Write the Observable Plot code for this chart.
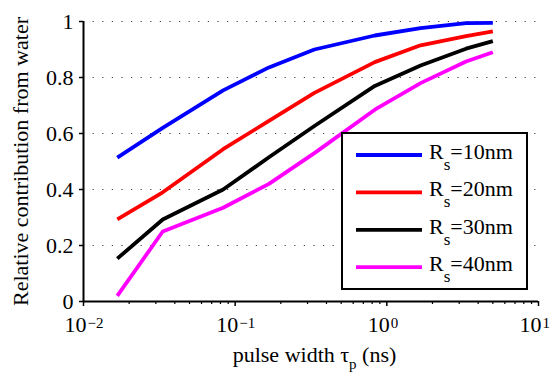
<!DOCTYPE html>
<html>
<head>
<meta charset="utf-8">
<script src="https://cdn.jsdelivr.net/npm/d3@7"></script>
<script src="https://cdn.jsdelivr.net/npm/@observablehq/plot@0.6"></script>
<style>
  html, body { margin: 0; padding: 0; background: #fff; }
  #chart { position: relative; width: 552px; height: 377px; }
  #chart svg text { font-family: "Liberation Serif", "DejaVu Serif", serif !important; }
</style>
</head>
<body>
<div id="chart"></div>
<script>
// ---- data ----
const pulseWidth = [0.0167, 0.0333, 0.0833, 0.167, 0.333, 0.833, 1.67, 3.33, 5];
const rs10 = [0.514, 0.62, 0.754, 0.836, 0.90, 0.95, 0.976, 0.994, 0.995];
const rs20 = [0.293, 0.39, 0.544, 0.645, 0.745, 0.855, 0.915, 0.948, 0.965];
const rs30 = [0.153, 0.293, 0.40, 0.515, 0.627, 0.77, 0.843, 0.903, 0.93];
const rs40 = [0.02, 0.25, 0.335, 0.42, 0.53, 0.685, 0.78, 0.857, 0.89];
const seriesNames = ["10nm", "20nm", "30nm", "40nm"];
const seriesColors = ["#0000ff", "#ff0000", "#000000", "#ff00ff"];
const yTicks = [0, 0.2, 0.4, 0.6, 0.8, 1];
const xMajor = [0.01, 0.1, 1, 10];
const xMinor = [0.02,0.03,0.04,0.05,0.06,0.07,0.08,0.09,0.2,0.3,0.4,0.5,0.6,0.7,0.8,0.9,2,3,4,5,6,7,8,9];
const xLabel = ["pulse width τ", "p", " (ns)"];
const yLabel = "Relative contribution from water";

const allSeries = [rs10, rs20, rs30, rs40];
const rows = [];
allSeries.forEach((vals, i) => vals.forEach((v, j) => rows.push({t: pulseWidth[j], v, s: seriesNames[i]})));

const W = 552, H = 377, ML = 83, MR = 14, MT = 21, MB = 76;
const FW = W - ML - MR, FH = H - MT - MB;

const plot = Plot.plot({
  width: W, height: H,
  marginLeft: ML, marginRight: MR, marginTop: MT, marginBottom: MB,
  style: {fontSize: "22px", background: "#fff", color: "#000"},
  x: {type: "log", domain: [0.01, 10], axis: null},
  y: {domain: [0, 1], axis: null},
  color: {domain: seriesNames, range: seriesColors},
  marks: [
    Plot.ruleY(yTicks.filter(d => d > 0), {y: d => d, stroke: "#000", strokeOpacity: 0.75, strokeWidth: 1.2, strokeDasharray: "1.2,8.4"}),
    Plot.line(rows, {x: "t", y: "v", z: "s", stroke: "s", strokeWidth: 3.8, strokeLinejoin: "round", strokeLinecap: "butt"}),
    Plot.ruleX([0.01], {strokeWidth: 2}),
    Plot.ruleY([0], {strokeWidth: 2}),
    Plot.tickY(yTicks, {y: d => d, insetLeft: -4, insetRight: FW, strokeWidth: 1.5}),
    Plot.tickX(xMajor, {x: d => d, insetTop: FH, insetBottom: -5, strokeWidth: 1.5}),
    Plot.tickX(xMinor, {x: d => d, insetTop: FH, insetBottom: -3, strokeWidth: 1.2}),
    Plot.text(yTicks, {y: d => d, frameAnchor: "left", dx: -10, textAnchor: "end", text: d => String(d), fontSize: 22}),
    Plot.text(xMajor, {x: d => d, frameAnchor: "bottom", dy: 30, dx: 3, textAnchor: "end", text: () => "10", fontSize: 22}),
    Plot.text(xMajor, {x: d => d, frameAnchor: "bottom", dy: 26, dx: 4, textAnchor: "start", text: d => { const e = Math.round(Math.log10(d)); return e < 0 ? "\u2212" + (-e) : String(e); }, fontSize: 15}),
    Plot.text([yLabel], {frameAnchor: "left", dx: -63, rotate: -90, textAnchor: "middle", text: d => d, fontSize: 22})
  ]
});
document.getElementById("chart").appendChild(plot);

const svg = d3.select(plot);
// x-axis label with subscript
const xl = svg.append("text")
  .attr("x", ML + FW / 2 + 4).attr("y", 362)
  .attr("text-anchor", "middle")
  .attr("font-size", 22).attr("fill", "#000");
xl.append("tspan").text(xLabel[0]);
xl.append("tspan").attr("dy", 7).attr("font-size", 15).text(xLabel[1]);
xl.append("tspan").attr("dy", -7).text(xLabel[2]);

// legend box
const lg = svg.append("g");
lg.append("rect").attr("x", 342).attr("y", 133).attr("width", 185).attr("height", 156)
  .attr("fill", "#fff").attr("stroke", "#000").attr("stroke-width", 2);
seriesNames.forEach((name, i) => {
  const yy = 155 + i * 37.4;
  lg.append("line").attr("x1", 356).attr("x2", 422).attr("y1", yy).attr("y2", yy)
    .attr("stroke", seriesColors[i]).attr("stroke-width", 3.8);
  const t = lg.append("text").attr("x", 429).attr("y", yy + 4)
    .attr("text-anchor", "start")
    .attr("font-size", 22).attr("fill", "#000");
  t.append("tspan").text("R");
  t.append("tspan").attr("dy", 11).attr("font-size", 17).text("s");
  t.append("tspan").attr("dy", -11).text("=" + name);
});
</script>
</body>
</html>
